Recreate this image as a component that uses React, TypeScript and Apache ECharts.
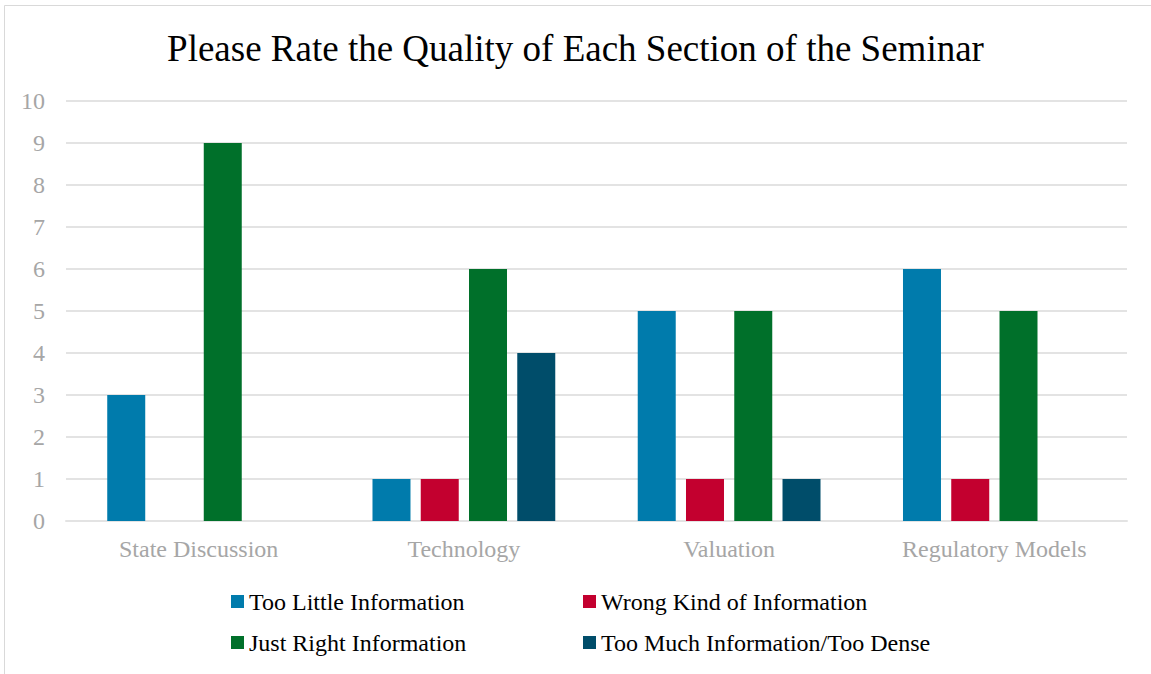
import React, { useEffect, useRef } from "react";
import * as echarts from "echarts";

const categories = ["State Discussion", "Technology", "Valuation", "Regulatory Models"];
const seriesNames = [
  "Too Little Information",
  "Wrong Kind of Information",
  "Just Right Information",
  "Too Much Information/Too Dense",
];
const tooLittle = [3, 1, 5, 6];
const wrongKind = [0, 1, 1, 1];
const justRight = [9, 6, 5, 5];
const tooMuch = [0, 4, 1, 0];
const colors = ["#007BAC", "#C3002F", "#00702A", "#004D6A"];

const FONT = "'Liberation Serif', 'Times New Roman', serif";

export default function App() {
  const ref = useRef<HTMLDivElement>(null);
  useEffect(() => {
    if (!ref.current) return;
    const chart = echarts.init(ref.current, undefined, { renderer: "svg" });
    const values = [tooLittle, wrongKind, justRight, tooMuch];
    chart.setOption({
      animation: false,
      backgroundColor: "#ffffff",
      title: {
        text: "Please Rate the Quality of Each Section of the Seminar",
        left: "center",
        top: 25,
        textStyle: { fontFamily: FONT, fontSize: 37, fontWeight: "normal", color: "#000000" },
      },
      graphic: [
        {
          type: "rect",
          shape: { x: 4.5, y: 5.5, width: 1200, height: 700 },
          style: { fill: "none", stroke: "#d9d9d9", lineWidth: 1 },
          silent: true,
        },
      ],
      grid: { left: 66, right: 24, top: 101, bottom: 153, containLabel: false },
      legend: {
        data: seriesNames,
        left: 226,
        top: 583,
        width: 720,
        itemWidth: 13,
        itemHeight: 13,
        itemGap: 14,
        icon: "rect",
        textStyle: { fontFamily: FONT, fontSize: 24, color: "#000000", width: 320, lineHeight: 27 },
      },
      xAxis: {
        type: "category",
        data: categories,
        axisLine: { show: true, lineStyle: { color: "#e3e3e3", width: 2 } },
        axisTick: { show: false },
        axisLabel: { fontFamily: FONT, fontSize: 24, color: "#a6a6a6", margin: 16 },
      },
      yAxis: {
        type: "value",
        min: 0,
        max: 10,
        interval: 1,
        axisLine: { show: false },
        axisTick: { show: false },
        splitLine: { lineStyle: { color: "#e3e3e3", width: 2 } },
        axisLabel: { fontFamily: FONT, fontSize: 24, color: "#a6a6a6", margin: 21 },
      },
      series: seriesNames.map((name, i) => ({
        name,
        type: "bar",
        data: values[i],
        barWidth: 38,
        barGap: "27%",
        itemStyle: { color: colors[i] },
      })),
    });
    return () => chart.dispose();
  }, []);
  return (
    <div
      ref={ref}
      style={{ position: "fixed", left: 0, top: 0, width: 1151, height: 674 }}
    />
  );
}
